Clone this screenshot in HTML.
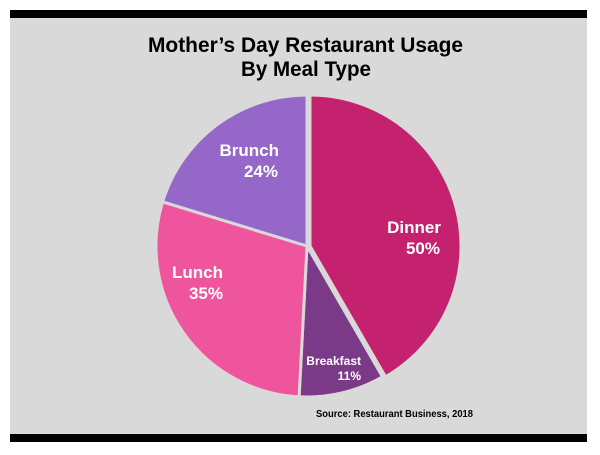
<!DOCTYPE html>
<html><head><style>
html,body{margin:0;padding:0;background:#fff;}
body{width:600px;height:450px;overflow:hidden;}
</style></head><body>
<svg width="600" height="450" xmlns="http://www.w3.org/2000/svg" font-family="Liberation Sans, sans-serif" font-weight="bold">
<rect x="0" y="0" width="600" height="450" fill="#fff"/>
<rect x="10" y="10" width="577" height="8" fill="#000"/>
<rect x="10" y="18" width="577" height="416" fill="#d9d9d9"/>
<rect x="10" y="434" width="577" height="8" fill="#000"/>
<text x="148" y="52" font-size="21" fill="#000" textLength="315" lengthAdjust="spacingAndGlyphs">Mother’s Day Restaurant Usage</text>
<text x="241" y="76" font-size="21" fill="#000" textLength="130" lengthAdjust="spacingAndGlyphs">By Meal Type</text>
<g stroke="#d9d9d9" stroke-width="3" stroke-linejoin="round">
<path d="M310,246 L310,95 A151,151 0 0 1 385.5,376.8 Z" fill="#c4226e"/>
<path d="M307,246 L382.5,376.8 A151,151 0 0 1 299.1,396.8 Z" fill="#7a3a87"/>
<path d="M307,246 L299.1,396.8 A151,151 0 0 1 162.6,201.8 Z" fill="#ee559d"/>
<path d="M307,246 L162.6,201.8 A151,151 0 0 1 307,95 Z" fill="#9467c8"/>
</g>
<g fill="#fff" font-size="17">
<text x="279" y="156" text-anchor="end">Brunch</text>
<text x="278" y="177" text-anchor="end">24%</text>
<text x="441" y="233" text-anchor="end">Dinner</text>
<text x="440" y="254" text-anchor="end">50%</text>
<text x="172" y="278">Lunch</text>
<text x="223" y="299" text-anchor="end">35%</text>
<text x="361" y="365" text-anchor="end" font-size="12">Breakfast</text>
<text x="361" y="380" text-anchor="end" font-size="12">11%</text>
</g>
<text x="316" y="417" font-size="10.5" fill="#000" textLength="157" lengthAdjust="spacingAndGlyphs">Source: Restaurant Business, 2018</text>
</svg>
</body></html>
